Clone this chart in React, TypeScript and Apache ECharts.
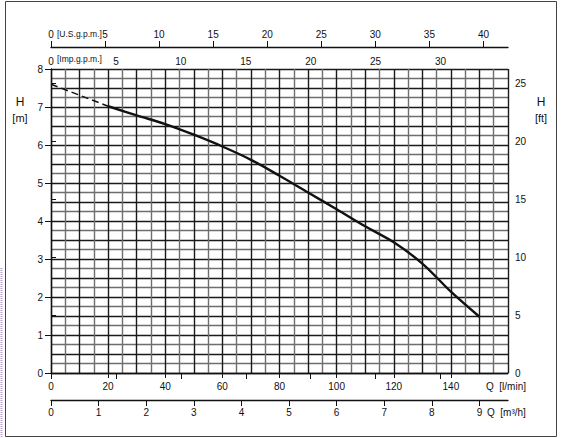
import React, { useEffect, useRef } from "react";
import * as echarts from "echarts";

// Pump curve H(Q)
const qDashed = [0, 20];
const hDashed = [7.6, 7.02];
const qSolid = [20, 30, 40, 50, 60, 70, 80, 90, 100, 110, 120, 130, 140, 150];
const hSolid = [7.02, 6.78, 6.55, 6.27, 5.96, 5.61, 5.19, 4.75, 4.31, 3.86, 3.44, 2.88, 2.14, 1.48];

// Tick labels
const lpmTicks = [0, 20, 40, 60, 80, 100, 120, 140];
const m3hTicks = [0, 1, 2, 3, 4, 5, 6, 7, 8, 9];
const usTicks = [0, 5, 10, 15, 20, 25, 30, 35, 40];
const impTicks = [0, 5, 10, 15, 20, 25, 30];
const mTicks = [0, 1, 2, 3, 4, 5, 6, 7, 8];
const ftTicks = [0, 5, 10, 15, 20, 25];

const Q_MAX = 160;
const H_MAX = 8;
const Q_GRID_STEP = 5;
const H_GRID_STEP = 0.25;
const L_PER_USG = 3.78541;
const L_PER_IMPG = 4.54609;
const LPM_PER_M3H = 1000 / 60;
const FT_PER_M = 3.28084;

const FONT = "Liberation Sans";
const TXT = "#111";

export default function App() {
  const ref = useRef<HTMLDivElement>(null);

  useEffect(() => {
    if (!ref.current) return;
    const chart = echarts.init(ref.current, undefined, { renderer: "svg" });

    const label = (extra: any = {}) => ({
      color: TXT,
      fontFamily: FONT,
      fontSize: 10,
      ...extra,
    });

    const gridColors = ["#1a1a1a", "#6e6e6e"];
    const hidden = {
      axisLine: { show: false },
      axisTick: { show: false },
      axisLabel: { show: false },
    };

    const option: any = {
      animation: false,
      backgroundColor: "#fff",
      grid: { left: 51, top: 69, width: 457, height: 304, containLabel: false },
      xAxis: [
        {
          type: "value",
          position: "bottom",
          min: 0,
          max: Q_MAX,
          interval: 20,
          axisLine: { show: true, onZero: false, lineStyle: { color: "#111", width: 1.3 } },
          axisTick: { show: true, customValues: lpmTicks, length: 5, lineStyle: { color: "#111" } },
          axisLabel: label({ customValues: lpmTicks, margin: 8 }),
          splitLine: { show: false },
          z: 4,
        },
        {
          type: "value",
          position: "bottom",
          offset: 27,
          min: 0,
          max: Q_MAX / LPM_PER_M3H,
          interval: 1,
          axisLine: { show: true, onZero: false, lineStyle: { color: "#111", width: 1.3 } },
          axisTick: { show: true, customValues: m3hTicks, length: 6, lineStyle: { color: "#111" } },
          axisLabel: label({ customValues: m3hTicks, margin: 7 }),
          splitLine: { show: false },
        },
        {
          type: "value",
          position: "top",
          offset: 22,
          min: 0,
          max: Q_MAX / L_PER_USG,
          interval: 5,
          axisLine: { show: true, onZero: false, lineStyle: { color: "#111", width: 1.3 } },
          axisTick: { show: true, customValues: usTicks, length: 6, lineStyle: { color: "#111" } },
          axisLabel: label({ customValues: usTicks, margin: 8 }),
          splitLine: { show: false },
        },
        {
          type: "value",
          position: "top",
          offset: 22,
          min: 0,
          max: Q_MAX / L_PER_IMPG,
          interval: 5,
          axisLine: { show: false },
          axisTick: { show: true, inside: true, customValues: impTicks, length: 6, lineStyle: { color: "#111" } },
          axisLabel: label({ customValues: impTicks, inside: true, margin: 9 }),
          splitLine: { show: false },
        },
        {
          type: "value",
          position: "bottom",
          min: 0,
          max: Q_MAX,
          interval: Q_GRID_STEP,
          ...hidden,
          splitLine: { show: true, lineStyle: { color: gridColors, width: 1.4 } },
        },
      ],
      yAxis: [
        {
          type: "value",
          position: "left",
          min: 0,
          max: H_MAX,
          interval: 1,
          axisLine: { show: true, onZero: false, lineStyle: { color: "#111", width: 1.3 } },
          axisTick: { show: true, customValues: mTicks, length: 6, lineStyle: { color: "#111" } },
          axisLabel: label({ customValues: mTicks, margin: 8 }),
          splitLine: { show: false },
          z: 4,
        },
        {
          type: "value",
          position: "right",
          min: 0,
          max: H_MAX * FT_PER_M,
          interval: 5,
          axisLine: { show: false },
          axisTick: { show: true, customValues: ftTicks, length: 5, lineStyle: { color: "#111" } },
          axisLabel: label({ customValues: ftTicks, margin: 7 }),
          splitLine: { show: false },
        },
        {
          type: "value",
          position: "left",
          min: 0,
          max: H_MAX,
          interval: H_GRID_STEP,
          ...hidden,
          splitLine: { show: true, lineStyle: { color: gridColors, width: 1.4 } },
        },
      ],
      series: [
        {
          type: "line",
          xAxisIndex: 0,
          yAxisIndex: 0,
          data: qDashed.map((q, i) => [q, hDashed[i]]),
          symbol: "none",
          lineStyle: { color: "#111", width: 1.5, type: [7, 4] },
          z: 5,
        },
        {
          type: "line",
          xAxisIndex: 0,
          yAxisIndex: 0,
          data: qSolid.map((q, i) => [q, hSolid[i]]),
          symbol: "none",
          smooth: 0.35,
          lineStyle: { color: "#111", width: 2.4 },
          z: 5,
        },
      ],
      graphic: [
        {
          type: "rect",
          shape: { x: 5.5, y: 1.5, width: 551, height: 435 },
          style: { fill: "none", stroke: "#444", lineWidth: 1 },
          silent: true,
        },
        {
          type: "line",
          shape: { x1: 1.5, y1: 268, x2: 1.5, y2: 437 },
          style: { stroke: "#b9a0cc", lineWidth: 2, lineDash: [1, 1] },
          silent: true,
        },
        { type: "text", x: 20, y: 102, style: { text: "H", fill: TXT, font: `12px "${FONT}"`, align: "center", verticalAlign: "middle" } },
        { type: "text", x: 20, y: 118, style: { text: "[m]", fill: TXT, font: `11px "${FONT}"`, align: "center", verticalAlign: "middle" } },
        { type: "text", x: 541, y: 102, style: { text: "H", fill: TXT, font: `12px "${FONT}"`, align: "center", verticalAlign: "middle" } },
        { type: "text", x: 541, y: 118, style: { text: "[ft]", fill: TXT, font: `11px "${FONT}"`, align: "center", verticalAlign: "middle" } },
        { type: "text", x: 486, y: 386, style: { text: "Q  [l/min]", fill: TXT, font: `10px "${FONT}"`, align: "left", verticalAlign: "middle" } },
        { type: "text", x: 487, y: 412, style: { text: "Q  [m³/h]", fill: TXT, font: `10px "${FONT}"`, align: "left", verticalAlign: "middle" } },
        { type: "text", x: 57, y: 34, style: { text: "[U.S.g.p.m.]", fill: TXT, font: `8.5px "${FONT}"`, align: "left", verticalAlign: "middle" } },
        { type: "text", x: 57, y: 59, style: { text: "[Imp.g.p.m.]", fill: TXT, font: `8.5px "${FONT}"`, align: "left", verticalAlign: "middle" } },
      ],
    };

    chart.setOption(option);
    return () => chart.dispose();
  }, []);

  return (
    <div
      ref={ref}
      style={{ position: "fixed", left: 0, top: 0, width: 564, height: 438, background: "#fff" }}
    />
  );
}
